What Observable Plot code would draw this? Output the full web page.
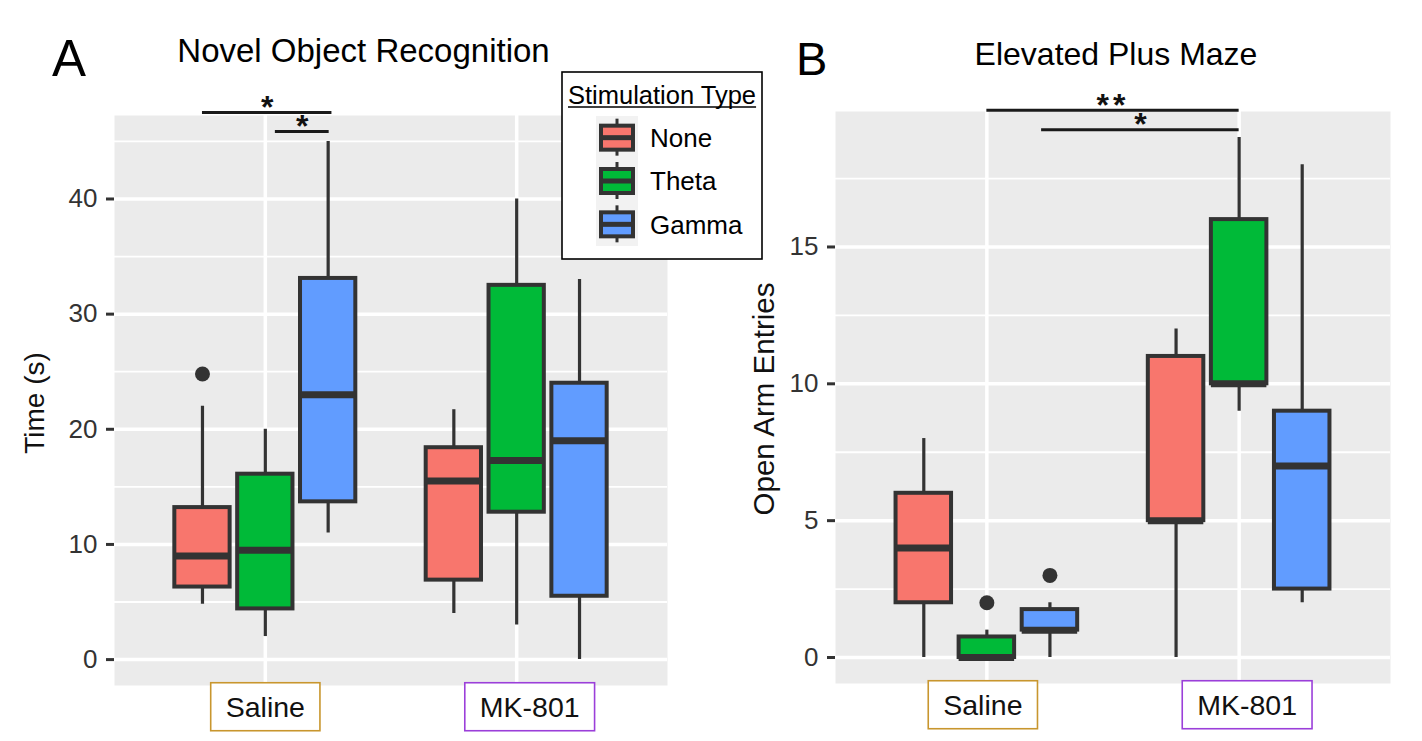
<!DOCTYPE html>
<html>
<head>
<meta charset="utf-8">
<script src="https://cdn.jsdelivr.net/npm/d3@7"></script>
<script src="https://cdn.jsdelivr.net/npm/@observablehq/plot@0.6"></script>
<style>
  html, body { margin: 0; padding: 0; background: #fff; }
  #wrap { position: relative; width: 1422px; height: 741px; overflow: hidden; font-family: "Liberation Sans", Arial, sans-serif; }
  .panel { position: absolute; top: 0; }
  #overlay { position: absolute; left: 0; top: 0; z-index: 2; pointer-events: none; }
</style>
</head>
<body>
<div id="wrap"></div>
<script>
// ---------------- DATA ----------------
const groups = ["Saline", "MK-801"];
const stimTypes = ["None", "Theta", "Gamma"];
const stimColors = ["#F8766D", "#00BA38", "#619CFF"];
const legendTitle = "Stimulation Type";

// Panel A: Novel Object Recognition (box summaries)
const norTitle = "Novel Object Recognition";
const norYLabel = "Time (s)";
const norTicks = [0, 10, 20, 30, 40];
const norGroup  = ["Saline", "Saline", "Saline", "MK-801", "MK-801", "MK-801"];
const norStim   = ["None", "Theta", "Gamma", "None", "Theta", "Gamma"];
const norLow    = [4.8, 2.0, 11.0, 4.0, 3.0, 0.0];
const norQ1     = [6.3, 4.4, 13.7, 6.9, 12.8, 5.5];
const norMedian = [9.0, 9.5, 23.0, 15.5, 17.3, 19.0];
const norQ3     = [13.2, 16.1, 33.1, 18.4, 32.5, 24.0];
const norHigh   = [22.0, 20.0, 45.0, 21.7, 40.0, 33.0];
const norOutGroup = ["Saline"];
const norOutStim  = ["None"];
const norOutValue = [24.8];
// significance brackets (x in group units, y in data units)
const norSigX1 = [-0.25, 0.04];
const norSigX2 = [0.265, 0.254];
const norSigY  = [47.5, 45.85];
const norSigLabel = ["*", "*"];

// Panel B: Elevated Plus Maze
const epmTitle = "Elevated Plus Maze";
const epmYLabel = "Open Arm Entries";
const epmTicks = [0, 5, 10, 15];
const epmGroup  = ["Saline", "Saline", "Saline", "MK-801", "MK-801", "MK-801"];
const epmStim   = ["None", "Theta", "Gamma", "None", "Theta", "Gamma"];
const epmLow    = [0, 0, 0, 0, 9, 2];
const epmQ1     = [2, 0, 1, 5, 10, 2.5];
const epmMedian = [4, 0, 1, 5, 10, 7];
const epmQ3     = [6, 0.75, 1.75, 11, 16, 9];
const epmHigh   = [8, 1, 2, 12, 19, 18];
const epmOutGroup = ["Saline", "Saline"];
const epmOutStim  = ["Theta", "Gamma"];
const epmOutValue = [2, 3];
const epmSigX1 = [0, 0.217];
const epmSigX2 = [1, 1];
const epmSigY  = [20.0, 19.28];
const epmSigLabel = ["**", "*"];

// ---------------- STYLE ----------------
const FONT = "'Liberation Sans', Arial, sans-serif";
const DARK = "#333333";
const dodge = 0.25, halfBox = 0.11;
const labelBorder = {"Saline": "#C8962E", "MK-801": "#9B3FD9"};

const wrap = document.getElementById("wrap");

function buildPanel(cfg) {
  const pos = (g, s) => groups.indexOf(g) + (stimTypes.indexOf(s) - 1) * dodge;
  const rows = cfg.group.map((g, i) => ({
    pos: pos(g, cfg.stim[i]),
    color: stimColors[stimTypes.indexOf(cfg.stim[i])],
    low: cfg.low[i], q1: cfg.q1[i], med: cfg.median[i], q3: cfg.q3[i], high: cfg.high[i]
  }));
  const outs = cfg.outGroup.map((g, i) => ({pos: pos(g, cfg.outStim[i]), v: cfg.outValue[i]}));
  const sig = cfg.sigY.map((y, i) => ({x1: cfg.sigX1[i], x2: cfg.sigX2[i], mid: (cfg.sigX1[i] + cfg.sigX2[i]) / 2, y, label: cfg.sigLabel[i]}));
  const all = [...cfg.low, ...cfg.high, ...cfg.outValue];
  const lo = d3.min(all), hi = d3.max(all), ex = (hi - lo) * 0.05;
  const domain = [lo - ex, hi + ex];
  const step = cfg.ticks[1] - cfg.ticks[0];
  const minor = d3.range(cfg.ticks[0] - step / 2, domain[1], step).filter(v => v > domain[0]);

  const svg = Plot.plot({
    width: cfg.width, height: 741,
    marginLeft: cfg.margin[0], marginRight: cfg.margin[1], marginTop: cfg.margin[2], marginBottom: cfg.margin[3],
    style: {fontFamily: FONT, background: "transparent", overflow: "visible"},
    x: {domain: [-0.6, groups.length - 1 + 0.6]},
    y: {domain},
    marks: [
      Plot.frame({fill: "#EBEBEB", stroke: null}),
      Plot.ruleY(minor, {stroke: "white", strokeWidth: 1.8}),
      Plot.ruleY(cfg.ticks, {stroke: "white", strokeWidth: 3.5}),
      Plot.ruleX(d3.range(groups.length), {stroke: "white", strokeWidth: 3.5}),
      Plot.ruleX(rows, {x: "pos", y1: "low", y2: "high", stroke: DARK, strokeWidth: 3.2}),
      Plot.rect(rows, {x1: d => d.pos - halfBox, x2: d => d.pos + halfBox, y1: "q1", y2: "q3", fill: "color", stroke: DARK, strokeWidth: 4}),
      Plot.ruleY(rows, {x1: d => d.pos - halfBox, x2: d => d.pos + halfBox, y: "med", stroke: DARK, strokeWidth: 7}),
      Plot.dot(outs, {x: "pos", y: "v", r: 7.5, fill: DARK, stroke: null}),
      Plot.ruleY(sig, {x1: "x1", x2: "x2", y: "y", stroke: "#1a1a1a", strokeWidth: 3}),
      Plot.text(sig, {x: "mid", y: "y", text: "label", lineAnchor: "bottom", dy: 5.5, fontSize: 32, fontWeight: "bold", fill: "#111"}),
      Plot.axisY(cfg.ticks, {tickSize: 8, tickPadding: 9, fontSize: 26, stroke: DARK, strokeWidth: 3, fill: "#333", label: null}),
      Plot.axisX(d3.range(groups.length), {tickSize: 0, tickPadding: 11, fontSize: 28.5, fill: "#111", label: null, tickFormat: d => groups[d]})
    ]
  });
  const div = document.createElement("div");
  div.className = "panel";
  div.style.left = cfg.left + "px";
  div.appendChild(svg);
  wrap.appendChild(div);

  // double-star labels are spaced a little wider in the reference
  svg.querySelectorAll('g[aria-label="text"] text').forEach(t => {
    if (t.textContent.length > 1) t.setAttribute("letter-spacing", "4");
  });

  // boxed category labels
  svg.querySelectorAll('g[aria-label="x-axis tick label"] text').forEach(t => {
    const name = t.textContent;
    const dx = cfg.nudge[name] || 0;
    const tr = (t.getAttribute("transform") || "") + ` translate(${dx},0)`;
    t.setAttribute("transform", tr);
    const bb = t.getBBox();
    const r = document.createElementNS("http://www.w3.org/2000/svg", "rect");
    r.setAttribute("x", bb.x - 15);
    r.setAttribute("y", bb.y - 8);
    r.setAttribute("width", bb.width + 30);
    r.setAttribute("height", bb.height + 16);
    r.setAttribute("fill", "white");
    r.setAttribute("stroke", labelBorder[name]);
    r.setAttribute("stroke-width", 1.6);
    r.setAttribute("transform", tr);
    t.parentNode.insertBefore(r, t);
  });
}

buildPanel({
  left: 0, width: 700, margin: [114, 33, 115, 56],
  group: norGroup, stim: norStim, low: norLow, q1: norQ1, median: norMedian, q3: norQ3, high: norHigh,
  outGroup: norOutGroup, outStim: norOutStim, outValue: norOutValue,
  sigX1: norSigX1, sigX2: norSigX2, sigY: norSigY, sigLabel: norSigLabel,
  ticks: norTicks, nudge: {"MK-801": 13}
});
buildPanel({
  left: 740, width: 682, margin: [95, 32, 111, 58],
  group: epmGroup, stim: epmStim, low: epmLow, q1: epmQ1, median: epmMedian, q3: epmQ3, high: epmHigh,
  outGroup: epmOutGroup, outStim: epmOutStim, outValue: epmOutValue,
  sigX1: epmSigX1, sigX2: epmSigX2, sigY: epmSigY, sigLabel: epmSigLabel,
  ticks: epmTicks, nudge: {"Saline": -4, "MK-801": 8}
});

// ---------------- OVERLAY TEXT & LEGEND ----------------
const ov = d3.select("#wrap").append("svg").attr("id", "overlay")
  .attr("width", 1422).attr("height", 741).style("font-family", FONT);

ov.append("text").attr("x", 52).attr("y", 76).attr("font-size", 51).attr("fill", "#000").text("A");
ov.append("text").attr("x", 796).attr("y", 75).attr("font-size", 47).attr("fill", "#000").text("B");
ov.append("text").attr("x", 363.5).attr("y", 62).attr("font-size", 33).attr("text-anchor", "middle").attr("fill", "#000").text(norTitle);
ov.append("text").attr("x", 1116).attr("y", 65).attr("font-size", 32).attr("text-anchor", "middle").attr("fill", "#000").text(epmTitle);
ov.append("text").attr("transform", "translate(44,403) rotate(-90)").attr("font-size", 28).attr("text-anchor", "middle").attr("fill", "#111").text(norYLabel);
ov.append("text").attr("transform", "translate(774,399) rotate(-90)").attr("font-size", 29.5).attr("text-anchor", "middle").attr("fill", "#111").text(epmYLabel);

const lg = ov.append("g").attr("transform", "translate(562,72)");
lg.append("rect").attr("x", 0).attr("y", 0).attr("width", 200).attr("height", 187)
  .attr("fill", "white").attr("stroke", "#000").attr("stroke-width", 1.6);
const lt = lg.append("text").attr("x", 6).attr("y", 32).attr("font-size", 25.5).attr("fill", "#000").text(legendTitle);
const ltw = lt.node().getComputedTextLength();
lg.append("line").attr("x1", 6).attr("x2", 6 + ltw).attr("y1", 35).attr("y2", 35).attr("stroke", "#000").attr("stroke-width", 1.6);
const keyTop = 44, keyH = 130 / stimTypes.length;
lg.append("rect").attr("x", 34).attr("y", keyTop).attr("width", 42).attr("height", 130).attr("fill", "#F2F2F2");
stimTypes.forEach((s, i) => {
  const cy = keyTop + keyH * (i + 0.5);
  lg.append("line").attr("x1", 55).attr("x2", 55).attr("y1", cy - 19).attr("y2", cy + 18).attr("stroke", DARK).attr("stroke-width", 3);
  lg.append("rect").attr("x", 39).attr("y", cy - 12).attr("width", 32).attr("height", 24)
    .attr("fill", stimColors[i]).attr("stroke", DARK).attr("stroke-width", 4);
  lg.append("line").attr("x1", 39).attr("x2", 71).attr("y1", cy).attr("y2", cy).attr("stroke", DARK).attr("stroke-width", 5);
  lg.append("text").attr("x", 88).attr("y", cy).attr("dy", "0.36em").attr("font-size", 26).attr("fill", "#000").text(s);
});
</script>
</body>
</html>
